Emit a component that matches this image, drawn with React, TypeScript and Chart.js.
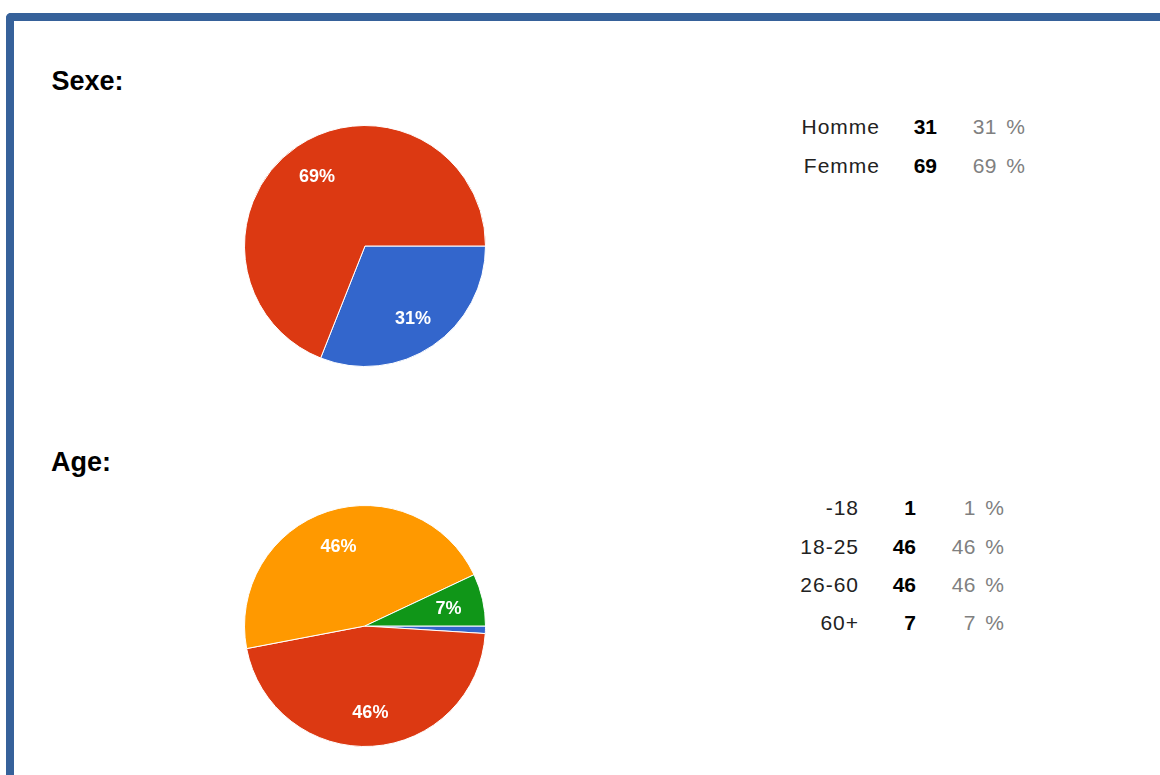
import React, { useEffect, useRef } from "react";
import { Chart, registerables } from "chart.js";

Chart.register(...registerables);

const sexeLabels = ["Homme", "Femme"];
const sexeValues = [31, 69];
const sexeColors = ["#3366cc", "#dc3912"];

const ageLabels = ["-18", "18-25", "26-60", "60+"];
const ageValues = [1, 46, 46, 7];
const ageColors = ["#3366cc", "#dc3912", "#ff9900", "#109618"];

const sliceLabelPlugin = {
  id: "sliceLabels",
  afterDatasetsDraw(chart: any) {
    const ctx = chart.ctx;
    const meta = chart.getDatasetMeta(0);
    const data = chart.data.datasets[0].data as number[];
    const total = data.reduce((a, b) => a + b, 0);
    ctx.save();
    ctx.fillStyle = "#ffffff";
    ctx.font = "bold 18px Arial, 'Liberation Sans', sans-serif";
    ctx.textAlign = "center";
    ctx.textBaseline = "middle";
    meta.data.forEach((arc: any, i: number) => {
      const frac = data[i] / total;
      if (frac < 0.05) return;
      const p = arc.getProps(["x", "y", "startAngle", "endAngle", "outerRadius"], true);
      const mid = (p.startAngle + p.endAngle) / 2;
      const r = p.outerRadius * 0.71;
      ctx.fillText(Math.round(frac * 100) + "%", p.x + Math.cos(mid) * r, p.y + Math.sin(mid) * r + 2);
    });
    ctx.restore();
  },
};

function Pie({ labels, values, colors, left, top, size }: any) {
  const ref = useRef<HTMLCanvasElement | null>(null);
  useEffect(() => {
    if (!ref.current) return;
    const chart = new Chart(ref.current, {
      type: "pie",
      data: {
        labels,
        datasets: [
          {
            data: values,
            backgroundColor: colors,
            borderColor: "#ffffff",
            borderWidth: 1,
          },
        ],
      },
      options: {
        responsive: false,
        animation: false,
        rotation: 90,
        layout: { padding: 0 },
        plugins: { legend: { display: false }, tooltip: { enabled: false } },
      },
      plugins: [sliceLabelPlugin],
    });
    return () => chart.destroy();
  }, []);
  return (
    <canvas
      ref={ref}
      width={size}
      height={size}
      style={{ position: "absolute", left, top, width: size, height: size }}
    />
  );
}

function Table({ labels, values, labelRight, numRight, pctRight, firstBaseline, rowGap }: any) {
  const total = values.reduce((a: number, b: number) => a + b, 0);
  const fs = 21;
  const cells: any[] = [];
  labels.forEach((lab: string, i: number) => {
    const top = firstBaseline + i * rowGap - fs * 0.8465;
    const base = {
      position: "absolute" as const,
      top,
      fontSize: fs,
      lineHeight: fs + "px",
      fontFamily: "Arial, 'Liberation Sans', sans-serif",
      whiteSpace: "nowrap" as const,
      textAlign: "right" as const,
      width: 200,
    };
    cells.push(
      <div key={"l" + i} style={{ ...base, left: labelRight - 200 + 1, color: "#222", letterSpacing: 1 }}>
        {lab}
      </div>
    );
    cells.push(
      <div key={"n" + i} style={{ ...base, left: numRight - 200, color: "#000", fontWeight: "bold" }}>
        {values[i]}
      </div>
    );
    cells.push(
      <div key={"p" + i} style={{ ...base, left: pctRight - 200 + 0.5, color: "#808080", letterSpacing: 0.5, wordSpacing: 3 }}>
        {Math.round((values[i] / total) * 100) + " %"}
      </div>
    );
  });
  return <>{cells}</>;
}

export default function App() {
  const title = {
    position: "absolute" as const,
    fontFamily: "Arial, 'Liberation Sans', sans-serif",
    fontWeight: "bold" as const,
    fontSize: 27,
    lineHeight: "27px",
    color: "#000",
  };
  return (
    <div
      style={{
        position: "absolute",
        left: 0,
        top: 0,
        width: 1160,
        height: 775,
        overflow: "hidden",
        background: "#fff",
      }}
    >
      <div
        style={{
          position: "absolute",
          left: 6,
          top: 13,
          width: 1300,
          height: 900,
          borderTop: "8px solid #36619a",
          borderLeft: "8px solid #36619a",
          borderTopLeftRadius: 5,
          boxSizing: "border-box",
        }}
      />
      <div style={{ ...title, left: 51.5, top: 68 }}>Sexe:</div>
      <div style={{ ...title, left: 51, top: 449 }}>Age:</div>
      <Pie labels={sexeLabels} values={sexeValues} colors={sexeColors} left={244} top={125} size={242} />
      <Pie labels={ageLabels} values={ageValues} colors={ageColors} left={244} top={505} size={242} />
      <Table
        labels={sexeLabels}
        values={sexeValues}
        labelRight={879}
        numRight={937}
        pctRight={1025}
        firstBaseline={134}
        rowGap={38.5}
      />
      <Table
        labels={ageLabels}
        values={ageValues}
        labelRight={858}
        numRight={916}
        pctRight={1004}
        firstBaseline={515}
        rowGap={38.3}
      />
    </div>
  );
}
